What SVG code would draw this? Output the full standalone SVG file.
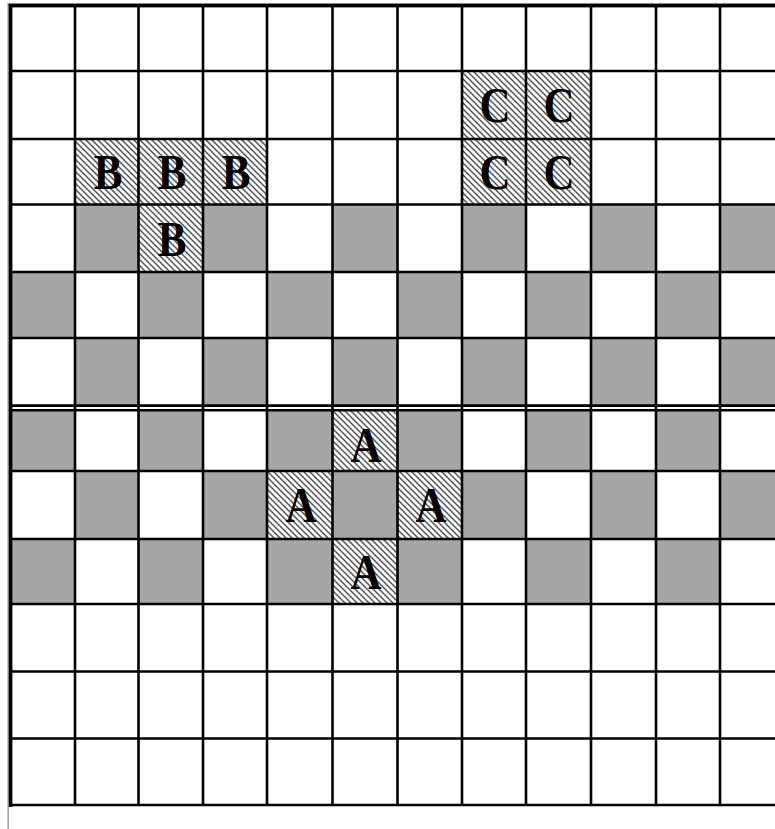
<svg xmlns="http://www.w3.org/2000/svg" width="775" height="829" viewBox="0 0 775 829">
<style>
.g{fill:#a6a6a6}
.h{fill:url(#hatch)}
.ln{stroke:#000;stroke-width:2.6;fill:none}
.t{font-family:"Liberation Serif","Times New Roman",serif;font-weight:bold;font-size:50px;fill:#000;text-anchor:middle}
</style>
<defs>
<pattern id="hatch" patternUnits="userSpaceOnUse" width="6" height="6">
<rect width="6" height="6" fill="#fff"/>
<path d="M-1,-1 L7,7 M-1,5 L1,7 M5,-1 L7,1" stroke="#555" stroke-width="1.5"/>
</pattern>
</defs>
<rect width="775" height="829" fill="#fff"/>
<g id="gray-cells">
<rect class="g" x="75" y="204.5" width="63.5" height="67.5"/>
<rect class="g" x="203" y="204.5" width="64" height="67.5"/>
<rect class="g" x="332.5" y="204.5" width="65" height="67.5"/>
<rect class="g" x="462" y="204.5" width="64" height="67.5"/>
<rect class="g" x="591" y="204.5" width="65" height="67.5"/>
<rect class="g" x="720" y="204.5" width="55" height="67.5"/>
<rect class="g" x="10" y="272" width="65" height="66"/>
<rect class="g" x="138.5" y="272" width="64.5" height="66"/>
<rect class="g" x="267" y="272" width="65.5" height="66"/>
<rect class="g" x="397.5" y="272" width="64.5" height="66"/>
<rect class="g" x="526" y="272" width="65" height="66"/>
<rect class="g" x="656" y="272" width="64" height="66"/>
<rect class="g" x="75" y="338" width="63.5" height="67"/>
<rect class="g" x="203" y="338" width="64" height="67"/>
<rect class="g" x="332.5" y="338" width="65" height="67"/>
<rect class="g" x="462" y="338" width="64" height="67"/>
<rect class="g" x="591" y="338" width="65" height="67"/>
<rect class="g" x="720" y="338" width="55" height="67"/>
<rect class="g" x="10" y="411" width="65" height="60"/>
<rect class="g" x="138.5" y="411" width="64.5" height="60"/>
<rect class="g" x="267" y="411" width="65.5" height="60"/>
<rect class="g" x="397.5" y="411" width="64.5" height="60"/>
<rect class="g" x="526" y="411" width="65" height="60"/>
<rect class="g" x="656" y="411" width="64" height="60"/>
<rect class="g" x="75" y="471" width="63.5" height="68"/>
<rect class="g" x="203" y="471" width="64" height="68"/>
<rect class="g" x="332.5" y="471" width="65" height="68"/>
<rect class="g" x="462" y="471" width="64" height="68"/>
<rect class="g" x="591" y="471" width="65" height="68"/>
<rect class="g" x="720" y="471" width="55" height="68"/>
<rect class="g" x="10" y="539" width="65" height="65"/>
<rect class="g" x="138.5" y="539" width="64.5" height="65"/>
<rect class="g" x="267" y="539" width="65.5" height="65"/>
<rect class="g" x="397.5" y="539" width="64.5" height="65"/>
<rect class="g" x="526" y="539" width="65" height="65"/>
<rect class="g" x="656" y="539" width="64" height="65"/>
</g>
<g id="cell-C1"><rect class="h" x="462" y="71" width="64" height="68"/><text class="t" transform="translate(495,122) scale(0.86,1)">C</text></g>
<g id="cell-C2"><rect class="h" x="526" y="71" width="65" height="68"/><text class="t" transform="translate(559,122) scale(0.86,1)">C</text></g>
<g id="cell-C3"><rect class="h" x="462" y="139" width="64" height="65.5"/><text class="t" transform="translate(495,189) scale(0.86,1)">C</text></g>
<g id="cell-C4"><rect class="h" x="526" y="139" width="65" height="65.5"/><text class="t" transform="translate(559,189) scale(0.86,1)">C</text></g>
<g id="cell-B1"><rect class="h" x="75" y="139" width="63.5" height="65.5"/><text class="t" transform="translate(108,189) scale(0.86,1)">B</text></g>
<g id="cell-B2"><rect class="h" x="138.5" y="139" width="64.5" height="65.5"/><text class="t" transform="translate(172,189) scale(0.86,1)">B</text></g>
<g id="cell-B3"><rect class="h" x="203" y="139" width="64" height="65.5"/><text class="t" transform="translate(236,189) scale(0.86,1)">B</text></g>
<g id="cell-B4"><rect class="h" x="138.5" y="204.5" width="64.5" height="67.5"/><text class="t" transform="translate(172,256) scale(0.86,1)">B</text></g>
<g id="cell-A1"><rect class="h" x="332.5" y="411" width="65" height="60"/><text class="t" transform="translate(366,462) scale(0.86,1)">A</text></g>
<g id="cell-A2"><rect class="h" x="267" y="471" width="65.5" height="68"/><text class="t" transform="translate(301,522) scale(0.86,1)">A</text></g>
<g id="cell-A3"><rect class="h" x="397.5" y="471" width="64.5" height="68"/><text class="t" transform="translate(431,522) scale(0.86,1)">A</text></g>
<g id="cell-A4"><rect class="h" x="332.5" y="539" width="65" height="65"/><text class="t" transform="translate(366,589) scale(0.86,1)">A</text></g>
<g id="grid-lines">
<path class="ln" d="M75,5.5V805 M138.5,5.5V805 M203,5.5V805 M267,5.5V805 M332.5,5.5V805 M397.5,5.5V805 M462,5.5V805 M526,5.5V805 M591,5.5V805 M656,5.5V805 M720,5.5V805"/>
<path class="ln" d="M10,71H775 M10,139H775 M10,204.5H775 M10,272H775 M10,338H775 M10,471H775 M10,539H775 M10,604H775 M10,671.5H775 M10,738.5H775"/>
<path class="ln" d="M10,405.6H775 M10,410.3H775" stroke-width="2"/>
<path class="ln" d="M10,805H775" stroke-width="2.8"/>
<rect x="7.5" y="3" width="1.3" height="826" fill="#8a8a8a"/>
<rect x="8" y="3" width="767" height="1.2" fill="#8a8a8a"/>
<rect x="8.8" y="4" width="3.6" height="803" fill="#000"/>
<rect x="8.8" y="4" width="766.2" height="3.4" fill="#000"/>
</g>
</svg>
